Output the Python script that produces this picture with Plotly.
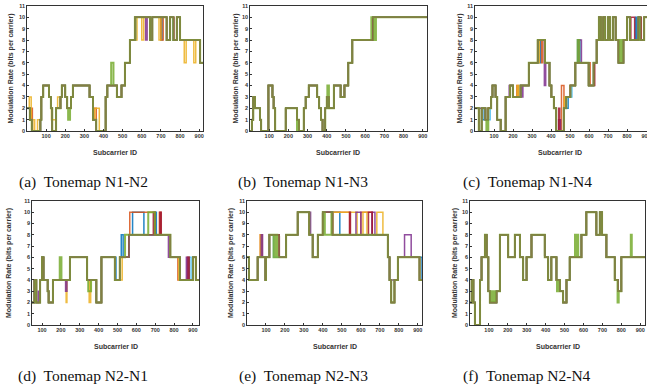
import numpy as np
import plotly.graph_objects as go

W, H = 647, 386

# ---------------- data (step breakpoints: start subcarrier, modulation rate) ----------------
A_x = [1, 15, 25, 70, 75, 85, 115, 125, 132, 152, 175, 182, 200, 210, 230, 240, 327, 345, 362, 411, 420, 470, 494, 512, 538, 564, 643, 655, 730, 748, 765, 783, 800, 905]
A_y = [2, 1, 0, 1, 3, 4, 3, 2, 0, 2, 3, 4, 3, 2, 3, 4, 3, 1, 0, 3, 4, 3, 4, 6, 8, 10, 8, 10, 8, 10, 8, 10, 8, 6]
A_var = {
    "blue":   [(560, 570, 8), (700, 706, 8)],
    "orange": [(350, 362, 2), (700, 712, 8), (20, 28, 2)],
    "yellow": [(12, 22, 3), (55, 70, 1), (128, 150, 1), (160, 172, 3), (355, 378, 2), (565, 575, 8),
               (600, 610, 8), (690, 700, 8), (822, 832, 6), (872, 882, 6), (30, 40, 1)],
    "purple": [(620, 628, 8)],
    "lblue":  [],
    "red":    [(760, 768, 10)],
    "green":  [(440, 452, 6), (90, 100, 4), (140, 150, 0), (215, 225, 1)],
    "olive":  [],
}

B_x = [1, 10, 17, 26, 52, 58, 96, 117, 123, 131, 186, 245, 255, 280, 290, 306, 350, 360, 370, 378, 392, 400, 411, 437, 472, 492, 512, 533, 640]
B_y = [0, 1, 3, 2, 1, 0, 4, 3, 2, 0, 2, 1, 0, 2, 3, 4, 3, 2, 1, 0, 2, 3, 2, 4, 3, 4, 6, 8, 10]
B_var = {
    "blue": [], "orange": [], "yellow": [], "purple": [], "lblue": [], "red": [],
    "green": [(403, 411, 4), (245, 252, 0), (632, 640, 10), (646, 656, 8)],
    "olive": [],
}

C_x = [1, 20, 35, 55, 70, 85, 92, 108, 117, 135, 161, 185, 200, 240, 283, 330, 368, 392, 402, 415, 427, 467, 480, 502, 528, 598, 624, 640, 652, 662, 675, 685, 700, 710, 725, 740, 755, 781, 800, 815, 860, 870, 890]
C_y = [2, 0, 2, 1, 2, 3, 4, 3, 1, 0, 3, 4, 3, 4, 6, 8, 6, 4, 3, 2, 0, 2, 3, 4, 6, 4, 6, 8, 10, 8, 10, 8, 10, 8, 10, 8, 6, 8, 10, 8, 10, 8, 10]
C_var = {
    "blue":   [(335, 345, 6), (540, 552, 8), (845, 852, 10), (40, 50, 1), (478, 490, 2)],
    "orange": [(455, 468, 4), (600, 606, 6), (350, 356, 6), (660, 668, 10), (220, 228, 4)],
    "yellow": [(222, 230, 4), (330, 338, 6), (470, 480, 3), (715, 722, 8)],
    "purple": [(20, 35, 2), (40, 55, 2), (360, 368, 8), (545, 560, 8), (690, 700, 8), (850, 860, 8),
               (180, 190, 4), (245, 252, 3), (365, 372, 4), (440, 450, 1)],
    "lblue":  [(70, 80, 1), (500, 510, 3)],
    "red":    [(380, 390, 6), (820, 840, 10), (865, 875, 10), (440, 446, 2), (620, 630, 4)],
    "green":  [(540, 548, 8), (760, 770, 8), (60, 70, 0)],
    "olive":  [],
}

D_x = [40, 60, 70, 90, 100, 108, 130, 135, 158, 248, 339, 388, 415, 486, 512, 560, 780, 831, 900, 915]
D_y = [2, 4, 2, 4, 6, 4, 3, 2, 4, 6, 4, 2, 6, 4, 6, 8, 6, 4, 6, 4]
D_var = {
    "blue":   [(580, 640, 10), (700, 706, 10), (480, 492, 6), (520, 530, 8)],
    "orange": [(565, 700, 10), (722, 730, 10), (820, 830, 4), (870, 880, 6)],
    "yellow": [(228, 232, 2), (350, 358, 2), (515, 525, 4), (825, 832, 4), (530, 545, 6)],
    "purple": [(225, 232, 3), (770, 780, 6), (865, 872, 6), (80, 90, 3)],
    "lblue":  [(520, 530, 6), (880, 890, 6)],
    "red":    [(690, 698, 10), (725, 732, 10), (875, 880, 6)],
    "green":  [(194, 203, 6), (345, 360, 3), (663, 698, 10), (540, 560, 8)],
    "olive":  [],
}

E_x = [1, 10, 33, 56, 74, 82, 97, 100, 118, 170, 206, 267, 328, 346, 373, 399, 450, 742, 751, 760, 777, 795, 909]
E_y = [6, 4, 4, 6, 6, 6, 4, 6, 8, 6, 8, 10, 8, 6, 8, 10, 8, 6, 4, 2, 4, 6, 4]
E_var = {
    "blue":   [(450, 489, 10), (909, 922, 6)],
    "orange": [(453, 542, 10), (70, 80, 8), (600, 660, 10)],
    "yellow": [(450, 580, 10), (611, 632, 10), (684, 716, 10), (70, 78, 8)],
    "purple": [(574, 600, 10), (658, 674, 10), (760, 777, 4), (830, 865, 8), (75, 82, 8), (320, 335, 10)],
    "lblue":  [(140, 175, 6)],
    "red":    [(640, 660, 10), (540, 545, 10)],
    "green":  [(140, 150, 6), (160, 170, 6), (410, 445, 8), (97, 100, 4)],
    "olive":  [],
}

F_x = [1, 9, 18, 26, 53, 61, 79, 88, 97, 105, 140, 158, 202, 237, 264, 281, 299, 325, 395, 413, 430, 457, 475, 492, 510, 527, 589, 615, 668, 686, 698, 721, 765, 782, 800]
F_y = [2, 4, 2, 0, 4, 6, 8, 6, 3, 2, 3, 8, 6, 8, 6, 4, 6, 8, 6, 4, 6, 4, 3, 2, 4, 6, 8, 10, 8, 10, 8, 6, 4, 3, 6]
F_var = {
    "blue": [], "orange": [], "yellow": [], "purple": [], "lblue": [], "red": [],
    "green": [(110, 120, 3), (125, 135, 3), (555, 560, 8), (565, 572, 8), (850, 855, 8), (460, 470, 3),
              (780, 786, 2)],
    "olive": [],
}

captions = ["(a)  Tonemap N1-N2", "(b)  Tonemap N1-N3", "(c)  Tonemap N1-N4",
            "(d)  Tonemap N2-N1", "(e)  Tonemap N2-N3", "(f)  Tonemap N2-N4"]
x_ticks = [100, 200, 300, 400, 500, 600, 700, 800, 900]
y_ticks = list(range(0, 12))

# ---------------- styling ----------------
colors = {
    "blue": "#0072BD", "orange": "#D95319", "yellow": "#EDB120", "purple": "#7E2F8E",
    "lblue": "#4DBEEE", "red": "#A2142F", "green": "#77AC30", "olive": "#857a48",
}
widths = {"green": 2.0, "olive": 1.1}

# panel boxes in pixels: (left, right, top, bottom), x range
panels = [
    ((27, 203, 6, 131), (0, 920), A_x, A_y, A_var),
    ((250, 427, 6, 131), (0, 922), B_x, B_y, B_var),
    ((475, 647, 6, 131), (0, 905), C_x, C_y, C_var),
    ((32, 199, 201, 325), (47, 932), D_x, D_y, D_var),
    ((247, 422, 201, 325), (0, 922), E_x, E_y, E_var),
    ((470, 645, 201, 325), (0, 925), F_x, F_y, F_var),
]
ylab_x = [11, 236, 460, 9, 231, 455]
cap_x = [83, 303, 527, 83, 303, 527]


def step_values(bx, by, xs):
    idx = np.searchsorted(np.array(bx), xs, side="right") - 1
    idx = np.clip(idx, 0, len(by) - 1)
    return np.array(by, dtype=float)[idx]


fig = go.Figure()
layout = {}
annotations = []
axfont = dict(family="Liberation Sans, Arial", size=5.5, color="#333333", weight="bold")

for i, (box, xr, bx, by, var) in enumerate(panels):
    l, r, t, b = box
    n = i + 1
    xa = "xaxis" if n == 1 else f"xaxis{n}"
    ya = "yaxis" if n == 1 else f"yaxis{n}"
    xref = "x" if n == 1 else f"x{n}"
    yref = "y" if n == 1 else f"y{n}"
    xs = np.arange(1, 933)
    base = step_values(bx, by, xs)
    for name in ["blue", "orange", "yellow", "purple", "lblue", "red", "green", "olive"]:
        vals = base.copy()
        for (x0, x1, v) in var[name]:
            vals[(xs >= x0) & (xs < x1)] = v
        fig.add_trace(go.Scatter(
            x=xs, y=vals, mode="lines", line_shape="hv",
            line=dict(color=colors[name], width=widths.get(name, 1.5)),
            opacity=0.85, xaxis=xref, yaxis=yref, showlegend=False, hoverinfo="skip"))
    layout[xa] = dict(domain=[l / W, r / W], range=list(xr), anchor=yref,
                      tickvals=x_ticks, ticks="inside", ticklen=2, tickwidth=0.6,
                      tickcolor="#333333", showline=True, mirror=True, linecolor="#333333",
                      linewidth=0.7, showgrid=False, zeroline=False, automargin=False,
                      ticklabeloverflow="allow", tickfont=axfont)
    layout[ya] = dict(domain=[1 - b / H, 1 - t / H], range=[0, 11], anchor=xref,
                      tickvals=y_ticks, ticks="inside", ticklen=2, tickwidth=0.6,
                      tickcolor="#333333", showline=True, mirror=True, linecolor="#333333",
                      linewidth=0.7, showgrid=False, zeroline=False, automargin=False,
                      tickfont=axfont)
    cx = (l + min(r, 645)) / 2
    annotations.append(dict(text="<b>Subcarrier ID</b>", x=cx / W, y=1 - (b + 21) / H,
                            xref="paper", yref="paper", showarrow=False,
                            xanchor="center", yanchor="middle",
                            font=dict(family="Liberation Sans, Arial", size=7, color="#333333")))
    annotations.append(dict(text="<b>Modulation Rate (bits per carrier)</b>", x=ylab_x[i] / W,
                            y=1 - ((t + b) / 2) / H, xref="paper", yref="paper", showarrow=False,
                            textangle=-90, xanchor="center", yanchor="middle",
                            font=dict(family="Liberation Sans, Arial", size=7, color="#333333")))
    annotations.append(dict(text=captions[i], x=cap_x[i] / W, y=1 - (b + 51) / H,
                            xref="paper", yref="paper", showarrow=False,
                            xanchor="center", yanchor="middle",
                            font=dict(family="Liberation Serif, Times New Roman", size=15.5,
                                      color="#111111")))

fig.update_layout(width=W, height=H, margin=dict(l=0, r=0, t=0, b=0),
                  paper_bgcolor="white", plot_bgcolor="white",
                  annotations=annotations, **layout)
fig.write_html("out.html", config={"displayModeBar": False},
               post_script="document.body.style.margin='0';document.body.style.overflow='hidden';")
